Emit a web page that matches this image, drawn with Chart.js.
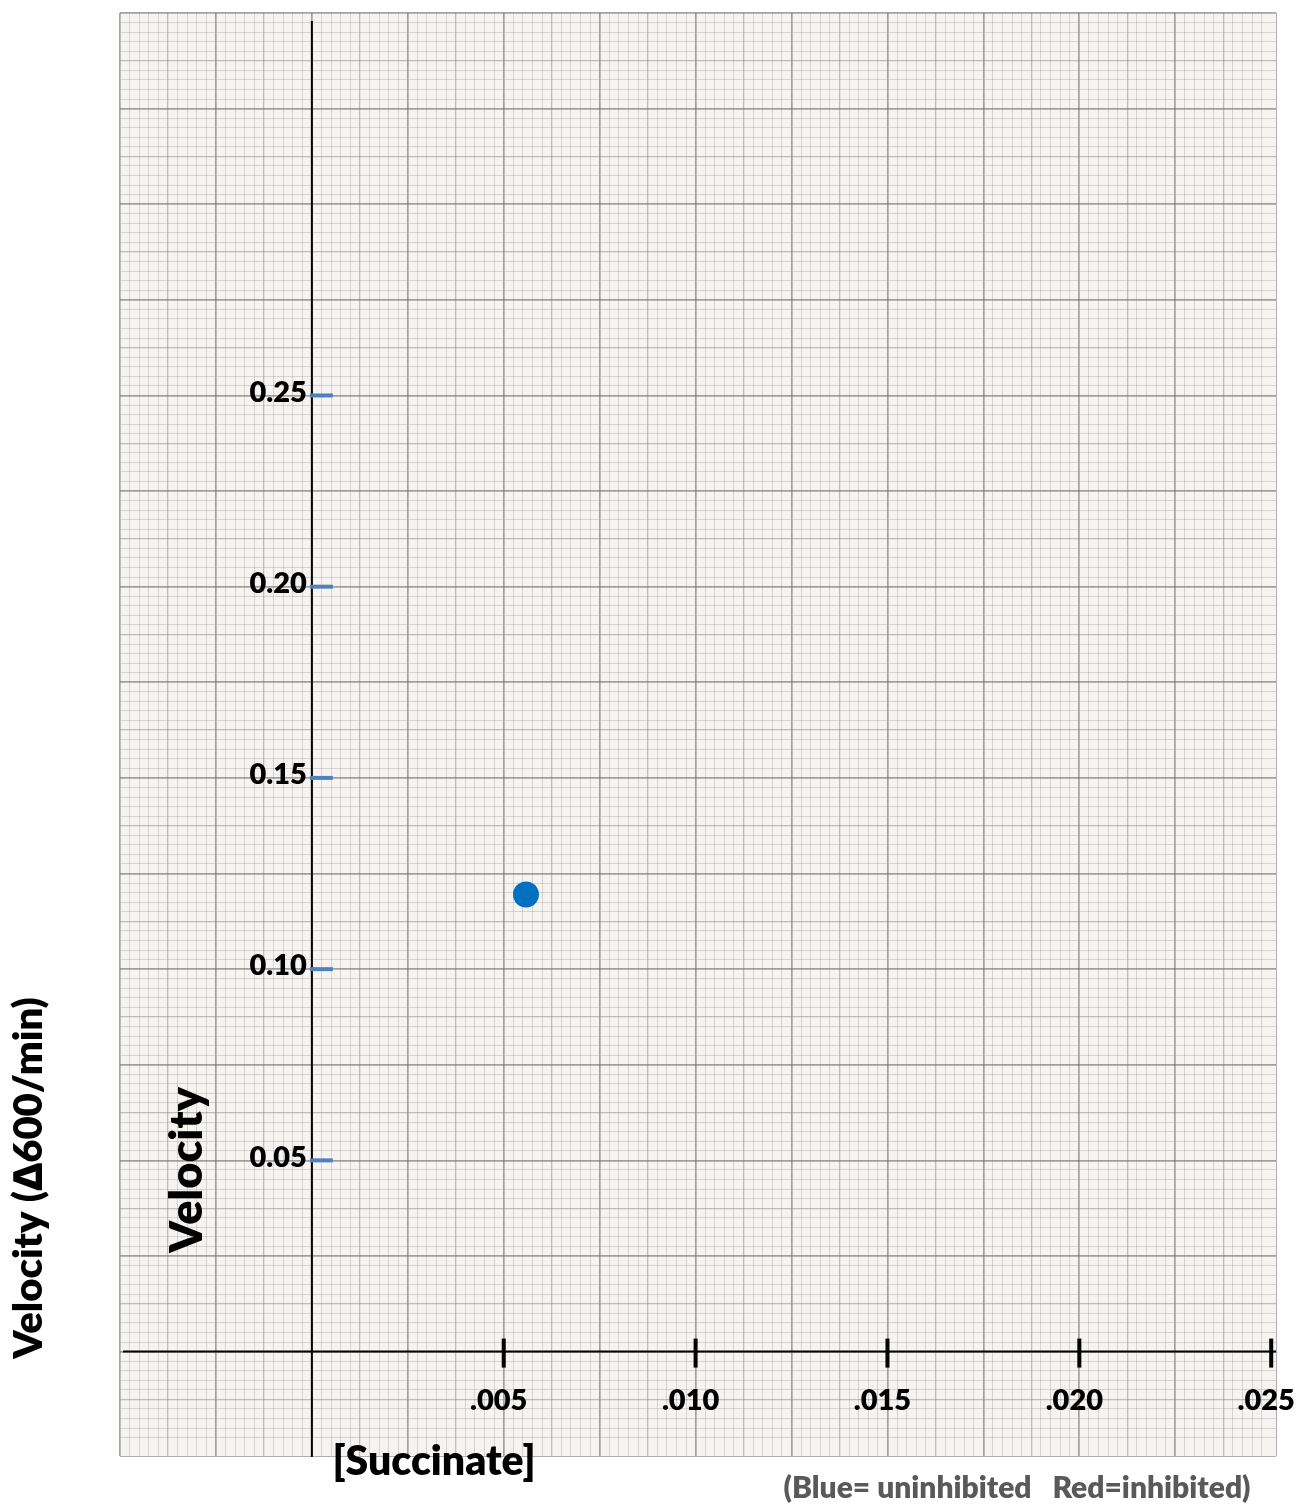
<!DOCTYPE html>
<html>
<head>
<meta charset="utf-8">
<script src="https://cdn.jsdelivr.net/npm/chart.js@4.4.1/dist/chart.umd.min.js"></script>
<style>
  html, body { margin: 0; padding: 0; background: #ffffff; }
  #wrap { position: relative; width: 1299px; height: 1509px; }
</style>
</head>
<body>
<div id="wrap"><canvas id="chart"></canvas></div>
<script>
// ── Data ──────────────────────────────────────────────────────────────────────

const xTicks = [0.005, 0.010, 0.015, 0.020, 0.025];
const xTickLabels = ['.005', '.010', '.015', '.020', '.025'];
const yTicks = [0.05, 0.10, 0.15, 0.20, 0.25];
const yTickLabels = ['0.05', '0.10', '0.15', '0.20', '0.25'];

// Blue = uninhibited, Red = inhibited (no red points plotted yet)
const blueSuccinate = [0.00558];
const blueVelocity = [0.1195];
const redSuccinate = [];
const redVelocity = [];

const FONT = 'Lato, "Open Sans", sans-serif';

// graph paper steps
const X_MINOR = 0.00025;
const Y_MINOR = 0.0025;

function paperColor(value, step) {
  const n = Math.round(value / step);
  if (Math.abs(value - n * step) > step * 0.01) return 'rgba(120,120,120,0.6)';
  if (n % 10 === 0) return 'rgba(105,105,105,0.6)';
  if (n % 5 === 0) return 'rgba(125,125,125,0.46)';
  return 'rgba(150,150,150,0.34)';
}
function paperWidth(value, step) {
  const n = Math.round(value / step);
  if (n % 10 === 0) return 1.7;
  if (n % 5 === 0) return 1.3;
  return 1;
}

// ── Plugin: paper, axes, ticks, texts ─────────────────────────────────────────

const paperPlugin = {
  id: 'paper',
  beforeDraw(chart) {
    const { ctx, chartArea: a } = chart;
    ctx.save();
    ctx.fillStyle = '#f6f4f1';
    ctx.fillRect(a.left, a.top, a.right - a.left, a.bottom - a.top);
    ctx.restore();
  },
  afterDatasetsDraw(chart) {
    const { ctx, chartArea: a, scales: { x, y } } = chart;
    const x0 = x.getPixelForValue(0);
    const y0 = y.getPixelForValue(0);
    ctx.save();

    // axes
    ctx.strokeStyle = '#000000';
    ctx.lineWidth = 2;
    ctx.beginPath();
    ctx.moveTo(a.left + 3, y0);
    ctx.lineTo(a.right, y0);
    ctx.moveTo(x0, a.top + 8);
    ctx.lineTo(x0, a.bottom + 1);
    ctx.stroke();

    // x ticks
    ctx.lineWidth = 4;
    xTicks.forEach(v => {
      const px = x.getPixelForValue(v);
      ctx.beginPath();
      ctx.moveTo(px, y0 - 13);
      ctx.lineTo(px, y0 + 16);
      ctx.stroke();
    });

    // y ticks (blue dashes)
    ctx.strokeStyle = '#4f81bd';
    yTicks.forEach(v => {
      const py = y.getPixelForValue(v);
      ctx.beginPath();
      ctx.moveTo(x0 - 2, py);
      ctx.lineTo(x0 + 21, py);
      ctx.stroke();
    });

    // tick labels
    ctx.fillStyle = '#000000';
    ctx.font = `800 29px ${FONT}`;
    ctx.textBaseline = 'middle';
    ctx.textAlign = 'center';
    xTicks.forEach((v, i) => {
      ctx.fillText(xTickLabels[i], x.getPixelForValue(v) - 5, y0 + 49);
    });
    ctx.textAlign = 'right';
    yTicks.forEach((v, i) => {
      ctx.fillText(yTickLabels[i], x0 - 5, y.getPixelForValue(v) - 3);
    });

    // titles
    ctx.textAlign = 'center';
    ctx.font = `800 41px ${FONT}`;
    ctx.fillText('[Succinate]', 434, 1462);

    ctx.save();
    ctx.translate(187, 1170);
    ctx.rotate(-Math.PI / 2);
    ctx.font = `800 45px ${FONT}`;
    ctx.fillText('Velocity', 0, 0);
    ctx.restore();

    ctx.save();
    ctx.translate(29, 1178);
    ctx.rotate(-Math.PI / 2);
    ctx.font = `800 40px ${FONT}`;
    ctx.fillText('Velocity (\u2206600/min)', 0, 0);
    ctx.restore();

    ctx.fillStyle = '#595959';
    ctx.font = `800 30px ${FONT}`;
    ctx.fillText('(Blue= uninhibited   Red=inhibited)', 1017, 1488);

    ctx.restore();
  },
};

// ── Chart ─────────────────────────────────────────────────────────────────────

new Chart(document.getElementById('chart'), {
  type: 'scatter',
  data: {
    datasets: [
      {
        label: 'Uninhibited',
        data: blueSuccinate.map((s, i) => ({ x: s, y: blueVelocity[i] })),
        backgroundColor: '#0070c0',
        borderWidth: 0,
        pointRadius: 13,
      },
      {
        label: 'Inhibited',
        data: redSuccinate.map((s, i) => ({ x: s, y: redVelocity[i] })),
        backgroundColor: '#c00000',
        borderWidth: 0,
        pointRadius: 13,
      },
    ],
  },
  options: {
    responsive: true,
    maintainAspectRatio: false,
    animation: false,
    layout: { padding: { left: 120, right: 23, top: 7, bottom: 53 } },
    plugins: { legend: { display: false }, tooltip: { enabled: false } },
    scales: {
      x: {
        type: 'linear',
        min: -0.005,
        max: 0.025125,
        border: { display: false },
        ticks: { display: false, stepSize: X_MINOR },
        grid: {
          drawTicks: false,
          color: c => paperColor(c.tick.value, X_MINOR),
          lineWidth: c => paperWidth(c.tick.value, X_MINOR),
        },
      },
      y: {
        type: 'linear',
        min: -0.0273,
        max: 0.35,
        border: { display: false },
        ticks: { display: false, stepSize: Y_MINOR },
        grid: {
          drawTicks: false,
          color: c => paperColor(c.tick.value, Y_MINOR),
          lineWidth: c => paperWidth(c.tick.value, Y_MINOR),
        },
      },
    },
  },
  plugins: [paperPlugin],
});
</script>
</body>
</html>
